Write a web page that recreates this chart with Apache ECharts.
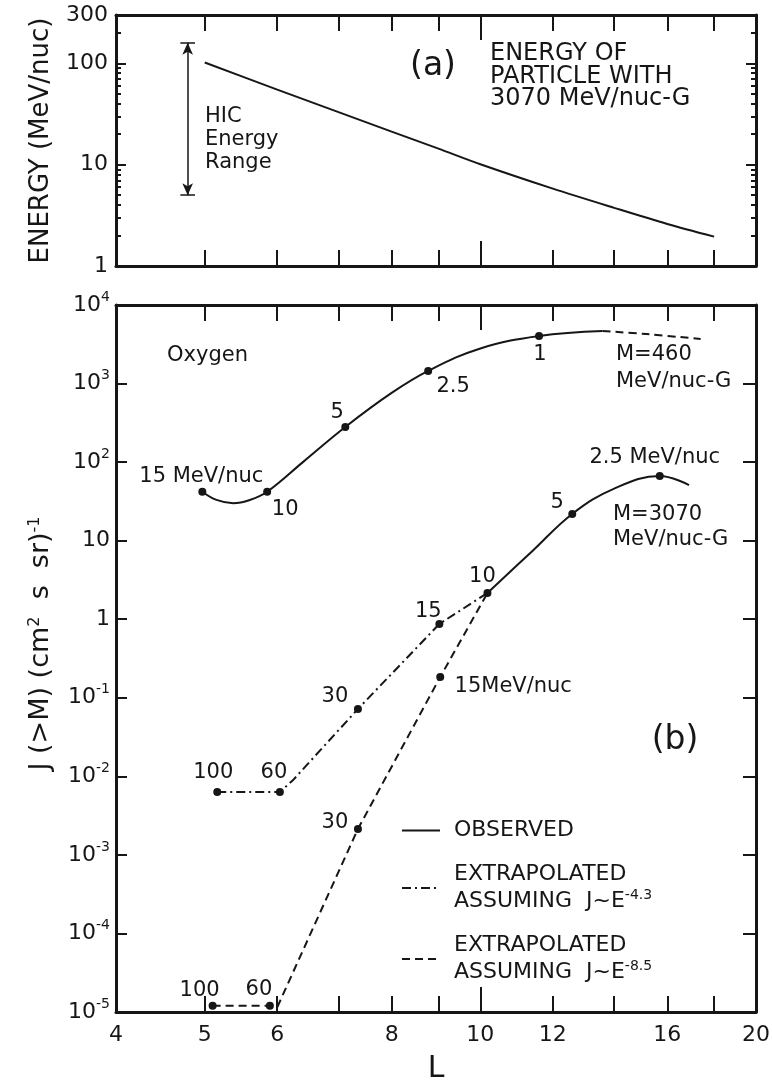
<!DOCTYPE html>
<html>
<head>
<meta charset="utf-8">
<script src="https://cdn.jsdelivr.net/npm/echarts@6/dist/echarts.min.js"></script>
<style>
  html, body { margin: 0; padding: 0; background: #fff; }
  #main { width: 772px; height: 1086px; }
</style>
</head>
<body>
<div id="main"></div>
<script>
// ---- panel (a): energy of particle with M = 3070 MeV/nuc-G ----
var energyL = [5, 6, 7, 8, 9, 10, 12, 14, 16, 18];
var energyE = [102, 55, 33, 21.2, 14.4, 10.1, 5.8, 3.75, 2.6, 1.95];
var hicL = 4.79;
var hicRange = [5, 160];

// ---- panel (b): oxygen, M = 460 MeV/nuc-G ----
var oxyL = [4.97, 5.15, 5.37, 5.6, 5.85, 6.4, 7.12, 8, 8.77, 10, 11.59, 13.6];
var oxyJ = [42, 33, 30, 33, 42, 100, 280, 760, 1450, 2800, 4030, 4660];
var oxyExtL = [13.6, 15.2, 17.4];
var oxyExtJ = [4660, 4260, 3690];
var oxyDotL = [4.97, 5.85, 7.12, 8.77, 11.59];
var oxyDotJ = [42, 42, 280, 1450, 4030];
var oxyDotTxt = ['15 MeV/nuc', '10', '5', '2.5', '1'];

// M = 3070 MeV/nuc-G, observed
var obsL = [10.18, 11.4, 12.6, 14, 15.7, 16.9];
var obsJ = [2.16, 7.4, 21.9, 46, 66.5, 51];
var obsDotL = [10.18, 12.6, 15.7];
var obsDotJ = [2.16, 21.9, 66.5];
var obsDotTxt = ['10', '5', '2.5 MeV/nuc'];

// extrapolated assuming J ~ E^-4.3
var ex43L = [5.16, 6.04, 6.24, 7.35, 9.02, 10.18];
var ex43J = [0.0063, 0.0063, 0.0089, 0.072, 0.87, 2.16];
var ex43DotL = [5.16, 6.04, 7.35, 9.02];
var ex43DotJ = [0.0063, 0.0063, 0.072, 0.87];
var ex43DotTxt = ['100', '60', '30', '15'];

// extrapolated assuming J ~ E^-8.5
var ex85L = [5.10, 5.89, 6.0, 7.35, 9.04, 10.18];
var ex85J = [1.2e-5, 1.2e-5, 1.15e-5, 0.00214, 0.184, 2.16];
var ex85DotL = [5.10, 5.89, 7.35, 9.04];
var ex85DotJ = [1.2e-5, 1.2e-5, 0.00214, 0.184];
var ex85DotTxt = ['100', '60', '30', '15MeV/nuc'];

// ---- ticks / labels ----
var xTicks = [5, 6, 7, 8, 9, 12, 14, 16, 18];
var xLongTicks = [10];
var xLabels = [4, 5, 6, 8, 10, 12, 16, 20];
var eLabels = [1, 10, 100, 300];
var eMinor = [2, 3, 4, 5, 6, 7, 8, 9, 20, 30, 40, 50, 60, 70, 80, 90, 200];
var jExp = [-5, -4, -3, -2, -1, 0, 1, 2, 3, 4];

// label offsets for the marked points (layout only)
var offsOxy = [[-1, -15], [18, 18], [-8, -14], [25, 16], [1, 19]];
var offsObs = [[-5, -16], [-15, -11], [-5, -18]];
var offs43 = [[-4, -20], [-6, -20], [-23, -12], [-11, -12]];
var offs85 = [[-13, -15], [-11, -16], [-23, -6], [73, 10]];

var ink = '#161616';
var font = "'DejaVu Sans', sans-serif";
var dashDot = [9, 4, 2, 4];
var dashed = [8, 5];

function lg(v) { return Math.log10(v); }
function pts(xs, ys) {
  return xs.map(function(x, i) { return [lg(x), lg(ys[i])]; });
}

// four x axes per grid: bottom, bottom long tick, top, top long tick
function xAxisSet(grid, withLabels) {
  function make(pos, values, len, line, labels) {
    var ax = {
      type: 'value', gridIndex: grid, position: pos,
      min: lg(4), max: lg(20), splitLine: { show: false },
      axisLine: { show: line, onZero: false, lineStyle: { color: ink, width: 3 } },
      axisTick: { show: true, inside: true, length: len, customValues: values.map(lg),
        lineStyle: { color: ink, width: 2 } },
      axisLabel: { show: false }
    };
    if (labels) {
      ax.axisLabel = {
        show: true, customValues: xLabels.map(lg), margin: 12,
        fontSize: 22, fontFamily: font, color: ink,
        formatter: function(v) { return String(Math.round(Math.pow(10, v))); }
      };
      ax.name = 'L';
      ax.nameLocation = 'middle';
      ax.nameGap = 42;
      ax.nameTextStyle = { fontSize: 30, fontFamily: font, color: ink };
    }
    return ax;
  }
  return [
    make('bottom', xTicks, 16, true, withLabels),
    make('bottom', xLongTicks, 25, false, false),
    make('top', xTicks, 16, true, false),
    make('top', xLongTicks, 25, false, false)
  ];
}

function yAxisPlain(grid, pos, min, max, values, len, line) {
  return {
    type: 'value', gridIndex: grid, position: pos, min: min, max: max,
    splitLine: { show: false },
    axisLine: { show: line, onZero: false, lineStyle: { color: ink, width: 3 } },
    axisTick: { show: true, inside: true, length: len, customValues: values,
      lineStyle: { color: ink, width: 2 } },
    axisLabel: { show: false }
  };
}

var xAxes = xAxisSet(0, false).concat(xAxisSet(1, true));

var yE = yAxisPlain(0, 'left', 0, lg(300), eLabels.map(lg), 10, true);
yE.axisLabel = {
  show: true, customValues: eLabels.map(lg), margin: 8,
  fontSize: 22, fontFamily: font, color: ink,
  formatter: function(v) { return String(Math.round(Math.pow(10, v))); }
};
yE.name = 'ENERGY (MeV/nuc)';
yE.nameLocation = 'middle';
yE.nameRotate = 90;
yE.nameGap = 62;
yE.nameTextStyle = { fontSize: 26, fontFamily: font, color: ink };

var yJ = yAxisPlain(1, 'left', -5, 4, jExp, 11, true);
yJ.axisLabel = {
  show: true, customValues: jExp, margin: 6,
  formatter: function(v) {
    var e = Math.round(v);
    if (e === 0) return '{b|1}';
    if (e === 1) return '{b|10}';
    return '{b|10}{e|' + e + '}';
  },
  rich: {
    b: { fontSize: 22, fontFamily: font, color: ink, lineHeight: 30 },
    e: { fontSize: 14, fontFamily: font, color: ink, lineHeight: 14, verticalAlign: 'top' }
  }
};
yJ.name = 'J (>M) (cm{s|2}  s  sr){s|-1}';
yJ.nameLocation = 'middle';
yJ.nameRotate = 90;
yJ.nameGap = 62;
yJ.nameTextStyle = {
  fontSize: 27, fontFamily: font, color: ink, padding: [0, 0, 0, 30],
  rich: { s: { fontSize: 16, fontFamily: font, color: ink, verticalAlign: 'top', lineHeight: 16 } }
};

var yAxes = [
  yE,
  yAxisPlain(0, 'right', 0, lg(300), eLabels.map(lg), 10, true),
  yAxisPlain(0, 'left', 0, lg(300), eMinor.map(lg), 5, false),
  yAxisPlain(0, 'right', 0, lg(300), eMinor.map(lg), 5, false),
  yJ,
  yAxisPlain(1, 'right', -5, 4, jExp, 13, true)
];

function curve(name, xs, ys, dash, smooth) {
  return {
    type: 'line', name: name, xAxisIndex: 4, yAxisIndex: 4,
    data: pts(xs, ys), symbol: 'none', smooth: smooth,
    lineStyle: { color: ink, width: 2, type: dash },
    itemStyle: { color: ink }
  };
}

function dots(xs, ys, txt, offs) {
  return {
    type: 'scatter', name: 'pts', xAxisIndex: 4, yAxisIndex: 4,
    symbolSize: 8, itemStyle: { color: ink, opacity: 1 }, z: 5,
    label: {
      show: true, position: 'inside', fontSize: 21, fontFamily: font,
      color: ink, opacity: 1, textBorderWidth: 0, textBorderColor: 'transparent',
      formatter: function(p) { return txt[p.dataIndex]; }
    },
    data: xs.map(function(x, i) {
      return { value: [lg(x), lg(ys[i])], label: { offset: offs[i] } };
    })
  };
}

var capW = 0.008;
var energySeries = {
  type: 'line', name: 'energy', xAxisIndex: 0, yAxisIndex: 0,
  data: pts(energyL, energyE), symbol: 'none', smooth: 0.3,
  lineStyle: { color: ink, width: 2 },
  markLine: {
    silent: true, symbol: ['arrow', 'arrow'], symbolSize: [8, 12],
    label: { show: false },
    lineStyle: { color: ink, width: 1.5, type: 'solid' },
    data: [
      [{ coord: [lg(hicL), lg(hicRange[1])] }, { coord: [lg(hicL), lg(hicRange[0])] }],
      [{ coord: [lg(hicL) - capW, lg(hicRange[1])], symbol: 'none' },
       { coord: [lg(hicL) + capW, lg(hicRange[1])], symbol: 'none' }],
      [{ coord: [lg(hicL) - capW, lg(hicRange[0])], symbol: 'none' },
       { coord: [lg(hicL) + capW, lg(hicRange[0])], symbol: 'none' }]
    ]
  }
};

function note(text, x, y, size, align, lh) {
  return {
    type: 'text', x: x, y: y, silent: true,
    style: {
      text: text, fill: ink, font: size + 'px ' + font,
      textAlign: align || 'left', textVerticalAlign: 'top', lineHeight: lh || size * 1.2
    }
  };
}

var chart = echarts.init(document.getElementById('main'));
var option = {
  animation: false,
  backgroundColor: '#fff',
  grid: [
    { left: 116, top: 15, width: 640, height: 251, outerBoundsMode: 'none' },
    { left: 116, top: 305, width: 640, height: 707, outerBoundsMode: 'none' }
  ],
  xAxis: xAxes,
  yAxis: yAxes,
  legend: {
    orient: 'vertical', left: 396, top: 812,
    itemWidth: 38, itemHeight: 14, itemGap: 17,
    selectedMode: false,
    itemStyle: { color: 'transparent', borderWidth: 0, opacity: 0 },
    data: ['OBSERVED', 'EXTRAPOLATED-4.3', 'EXTRAPOLATED-8.5'],
    formatter: function(n) {
      if (n === 'OBSERVED') return 'OBSERVED';
      var p = n === 'EXTRAPOLATED-4.3' ? '-4.3' : '-8.5';
      return 'EXTRAPOLATED\nASSUMING  J~E{s|' + p + '}';
    },
    textStyle: {
      fontSize: 22, fontFamily: font, color: ink, lineHeight: 27, padding: [0, 0, 0, 9],
      rich: { s: { fontSize: 14, fontFamily: font, color: ink, verticalAlign: 'top', lineHeight: 14 } }
    }
  },
  graphic: [
    note('(a)', 433, 47, 33, 'center'),
    note('ENERGY OF\nPARTICLE WITH\n3070 MeV/nuc-G', 490, 43, 24, 'left', 22.5),
    note('HIC\nEnergy\nRange', 205, 105, 21, 'left', 23),
    note('Oxygen', 167, 343, 21),
    note('M=460\nMeV/nuc-G', 616, 341, 21, 'left', 27),
    note('M=3070\nMeV/nuc-G', 613, 502, 21, 'left', 25),
    note('(b)', 675, 721, 33, 'center')
  ],
  series: [
    energySeries,
    curve('OBSERVED', oxyL, oxyJ, 'solid', 0.4),
    curve('ext460', oxyExtL, oxyExtJ, dashed, 0.4),
    curve('OBSERVED', obsL, obsJ, 'solid', 0.4),
    curve('EXTRAPOLATED-4.3', ex43L, ex43J, dashDot, false),
    curve('EXTRAPOLATED-8.5', ex85L, ex85J, dashed, false),
    dots(oxyDotL, oxyDotJ, oxyDotTxt, offsOxy),
    dots(obsDotL, obsDotJ, obsDotTxt, offsObs),
    dots(ex43DotL, ex43DotJ, ex43DotTxt, offs43),
    dots(ex85DotL, ex85DotJ, ex85DotTxt, offs85)
  ]
};
option && chart.setOption(option);
</script>
</body>
</html>
